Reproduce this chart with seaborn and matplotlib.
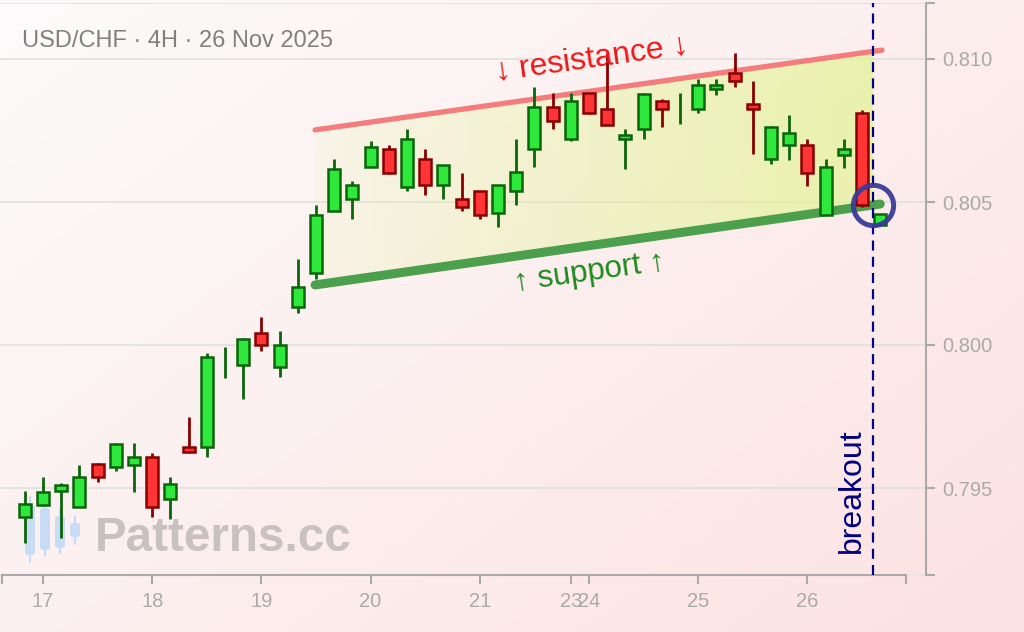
import numpy as np
import pandas as pd
import matplotlib
matplotlib.use("Agg")
import matplotlib.pyplot as plt
import seaborn as sns
from matplotlib.patches import Polygon, FancyBboxPatch

# ---------------- data ----------------
opens = [0.79399, 0.79441, 0.79490, 0.79435, 0.79583, 0.79573, 0.79580, 0.79609, 0.79460, 0.79644,
         0.79642, 0.79941, 0.79929, 0.80043, 0.79922, 0.80134, 0.80251, 0.80470, 0.80509, 0.80622,
         0.80686, 0.80551, 0.80651, 0.80558, 0.80512, 0.80540, 0.80460, 0.80537, 0.80684, 0.80833,
         0.80719, 0.80882, 0.80826, 0.80719, 0.80754, 0.80854, 0.80825, 0.80824, 0.80896, 0.80952,
         0.80842, 0.80650, 0.80698, 0.80700, 0.80456, 0.80665, 0.80812, 0.80421]
closes = [0.79444, 0.79486, 0.79512, 0.79540, 0.79538, 0.79653, 0.79609, 0.79432, 0.79513, 0.79627,
          0.79959, 0.79941, 0.80021, 0.79999, 0.80001, 0.80204, 0.80456, 0.80616, 0.80560, 0.80693,
          0.80600, 0.80721, 0.80558, 0.80630, 0.80481, 0.80453, 0.80560, 0.80604, 0.80833, 0.80782,
          0.80854, 0.80810, 0.80768, 0.80735, 0.80877, 0.80824, 0.80825, 0.80910, 0.80910, 0.80923,
          0.80824, 0.80763, 0.80742, 0.80601, 0.80623, 0.80686, 0.80488, 0.80458]
highs = [0.79490, 0.79538, 0.79516, 0.79580, 0.79587, 0.79656, 0.79656, 0.79621, 0.79537, 0.79748,
         0.79971, 0.79994, 0.80025, 0.80097, 0.80049, 0.80301, 0.80490, 0.80649, 0.80573, 0.80713,
         0.80699, 0.80754, 0.80684, 0.80630, 0.80602, 0.80540, 0.80560, 0.80720, 0.80901, 0.80880,
         0.80880, 0.80882, 0.81020, 0.80754, 0.80880, 0.80859, 0.80880, 0.80929, 0.80929, 0.81020,
         0.80923, 0.80766, 0.80803, 0.80719, 0.80649, 0.80719, 0.80822, 0.80458]
lows = [0.79308, 0.79437, 0.79325, 0.79434, 0.79520, 0.79560, 0.79485, 0.79400, 0.79393, 0.79623,
        0.79609, 0.79884, 0.79812, 0.79980, 0.79889, 0.80113, 0.80230, 0.80469, 0.80442, 0.80622,
        0.80597, 0.80540, 0.80526, 0.80510, 0.80470, 0.80442, 0.80414, 0.80491, 0.80623, 0.80756,
        0.80714, 0.80808, 0.80768, 0.80616, 0.80721, 0.80763, 0.80773, 0.80812, 0.80875, 0.80903,
        0.80667, 0.80632, 0.80646, 0.80556, 0.80456, 0.80618, 0.80484, 0.80421]

day_labels = ['17', '18', '19', '20', '21', '23', '24', '25', '26']
day_start_idx = [1, 7, 13, 19, 25, 30, 31, 37, 43]

y_ticks = [0.795, 0.800, 0.805, 0.810]
y_tick_labels = ['0.795', '0.800', '0.805', '0.810']

resistance_x = [15.95, 47.1]
resistance_y = [0.80752, 0.81031]
support_x = [15.95, 47.0]
support_y = [0.80210, 0.80493]
breakout_x = 46.6
breakout_y = 0.8049

title = 'USD/CHF · 4H · 26 Nov 2025'

# ---------------- style ----------------
sns.set_style('ticks')
plt.rcParams['font.family'] = ['Liberation Sans', 'DejaVu Sans']

df = pd.DataFrame({'open': opens, 'high': highs, 'low': lows, 'close': closes})
df['idx'] = np.arange(len(df))
df['up'] = df['close'] >= df['open']

W, H = 1024, 632
fig = plt.figure(figsize=(W / 100, H / 100), dpi=100)

# background gradient
bg = fig.add_axes([0, 0, 1, 1], zorder=-5)
gx = np.linspace(0, 1, 256)[None, :]
gy = np.linspace(0, 1, 160)[:, None]
t = np.clip(0.55 * gx + 0.45 * gy, 0, 1)
c0 = np.array([253, 251, 251]) / 255
c1 = np.array([252, 226, 226]) / 255
img = c0[None, None, :] * (1 - t[..., None]) + c1[None, None, :] * t[..., None]
bg.imshow(img, extent=[0, 1, 0, 1], aspect='auto', origin='upper')
bg.set_xlim(0, 1); bg.set_ylim(0, 1)
bg.axis('off')

# logo (small candle icon) in pixel coords
def px(x, y):
    return x / W, 1 - y / H
logo_color = '#c9dcf6'
logo = [(30, 497, 562, 505, 555), (45, 498, 556, 508, 550), (60, 510, 553, 516, 548), (75, 516, 544, 523, 537)]
for cx, wt, wb, bt, bb in logo:
    bg.plot([cx / W, cx / W], [1 - wt / H, 1 - wb / H], color=logo_color, lw=1.6, solid_capstyle='round')
    x0, y0 = px(cx - 5, bb)
    bg.add_patch(FancyBboxPatch((x0, y0), 10 / W, (bb - bt) / H,
                                boxstyle='round,pad=0,rounding_size=0.004',
                                fc=logo_color, ec='none'))
fig.text(95 / W, 1 - 551 / H, 'Patterns.cc', fontsize=34.3, fontweight='bold',
         color='#c9c1c1', ha='left', va='baseline', zorder=-1)

# main axes
ax = fig.add_axes([0, 57 / H, 926 / W, 572 / H])
ax.set_facecolor('none')
xlo, xhi = 1 - 43 / 18.2, 1 + 883 / 18.2
ylo, yhi = 0.810 - 516 / 28600, 0.810 + 56 / 28600

# channel fill with gradient
rx0 = np.interp(support_x[0], resistance_x, resistance_y)
poly_pts = [(support_x[0], rx0),
            (breakout_x, np.interp(breakout_x, resistance_x, resistance_y)),
            (breakout_x, np.interp(breakout_x, support_x, support_y)),
            (support_x[0], support_y[0])]
poly = Polygon(poly_pts, closed=True, fc='none', ec='none', transform=ax.transData)
ax.add_patch(poly)
grad = np.zeros((1, 256, 4))
grad[..., 0] = 0.89
grad[..., 1] = 0.96
grad[..., 2] = 0.58
grad[..., 3] = np.linspace(0.12, 0.72, 256)[None, :]
im = ax.imshow(grad, extent=[support_x[0], breakout_x, ylo, yhi], aspect='auto',
               origin='lower', zorder=1, interpolation='bilinear')
im.set_clip_path(poly)

# channel lines
sns.lineplot(x=resistance_x, y=resistance_y, ax=ax, color='#f47c7c', lw=3.8,
             solid_capstyle='round', zorder=2)
sns.lineplot(x=support_x, y=support_y, ax=ax, color='#4c9f4c', lw=6.5,
             solid_capstyle='round', zorder=2)

# candles
up = df[df['up']]
dn = df[~df['up']]
green_fc, green_ec = '#2ee83c', '#0b650b'
red_fc, red_ec = '#ff3434', '#8a0000'
ax.vlines(up['idx'], up['low'], up['high'], color=green_ec, lw=2.0, zorder=3)
ax.vlines(dn['idx'], dn['low'], dn['high'], color=red_ec, lw=2.0, zorder=3)
upb = up[(up['close'] - up['open']) > 0]
ax.bar(upb['idx'], upb['close'] - upb['open'], bottom=upb['open'], width=0.66,
       color=green_fc, edgecolor=green_ec, linewidth=1.8, zorder=4)
ax.bar(dn['idx'], dn['open'] - dn['close'], bottom=dn['close'], width=0.66,
       color=red_fc, edgecolor=red_ec, linewidth=1.8, zorder=4)

# breakout marker
ax.axvline(breakout_x, color='#000080', lw=1.6, dashes=(4.5, 2.8), zorder=5)
ax.plot([breakout_x], [breakout_y], marker='o', ms=29, mfc='none', mec='#3b3b98',
        mew=3.6, zorder=6, alpha=0.95)

# annotations
ax.text(31.16, 0.81000, '↓ resistance ↓', color='#ee1818', fontsize=23, rotation=8,
        rotation_mode='anchor', ha='center', va='center', zorder=6)
ax.text(31.05, 0.80255, '↑ support ↑', color='#1f8a1f', fontsize=22.5, rotation=8,
        rotation_mode='anchor', ha='center', va='center', zorder=6)
ax.text(45.45, 0.79489, 'breakout', color='#000080', fontsize=23, rotation=90,
        ha='center', va='center', zorder=6)

fig.text(22 / W, 1 - 41 / H, title, fontsize=17, color='#808080', ha='left', va='center')

# axes styling
ax.set_xlim(xlo, xhi)
ax.set_ylim(ylo, yhi)
b_lo, b_hi = 1 - 41 / 18.2, 1 + 863 / 18.2
ax.set_xticks([b_lo] + day_start_idx + [b_hi])
ax.set_xticklabels([''] + day_labels + [''])
ax.set_yticks([ylo] + y_ticks + [yhi])
ax.set_yticklabels([''] + y_tick_labels + [''])
ax.yaxis.tick_right()
ax.yaxis.set_label_position('right')
for s in ['left', 'top']:
    ax.spines[s].set_visible(False)
for s in ['right', 'bottom']:
    ax.spines[s].set_color('#aaaaaa')
    ax.spines[s].set_linewidth(1.5)
ax.spines['bottom'].set_bounds(b_lo, b_hi)
ax.tick_params(axis='both', colors='#aaaaaa', labelcolor='#aaaaaa', labelsize=14.5,
               length=6.5, width=1.5)
ax.tick_params(axis='y', pad=5.5)
ax.tick_params(axis='x', pad=6)
ax.grid(axis='y', color='#dedede', lw=1.1, zorder=0)
ax.set_axisbelow(True)
ax.set_xlabel('')
ax.set_ylabel('')

fig.savefig('out.png', dpi=100)
